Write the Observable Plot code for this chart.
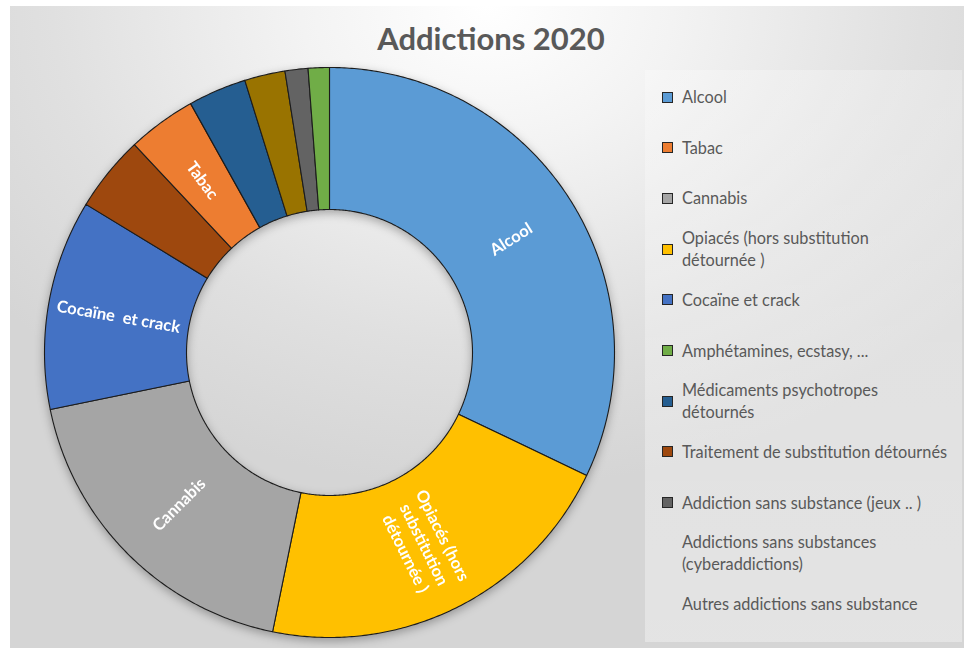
<!DOCTYPE html>
<html>
<head>
<meta charset="utf-8">
<script src="https://cdn.jsdelivr.net/npm/d3@7"></script>
<script src="https://cdn.jsdelivr.net/npm/@observablehq/plot@0.6"></script>
<style>
  body { margin: 0; background: #ffffff; font-family: Lato, "Open Sans", sans-serif; }
  #page { position: relative; width: 964px; height: 648px; overflow: hidden; background: #ffffff; }
  #frame { position: absolute; left: 10px; top: 6px; width: 954px; height: 642px;
    background: radial-gradient(ellipse 65% 75% at 50% 0%, #ffffff 0%, #f3f3f3 30%, #e0e0e0 70%, #d5d5d5 100%); }
  #panel { position: absolute; left: 645px; top: 70px; width: 317px; height: 572px;
    background: linear-gradient(180deg, rgba(255,255,255,0.25), rgba(255,255,255,0.35)); }
  #title { position: absolute; left: 14px; top: 20px; width: 954px; text-align: center;
    font-family: Lato, sans-serif; font-weight: 700; font-size: 31px; color: #595959; line-height: 36px; }
  #chart { position: absolute; left: 39px; top: 62px; width: 580px; height: 580px;
    filter: drop-shadow(0px 3px 5px rgba(0,0,0,0.30)); }
  .item { position: absolute; left: 662px; display: flex; align-items: center; transform: translateY(-50%); }
  .sw { width: 9px; height: 9px; border: 1px solid #262626; margin-right: 9px; flex: none; }
  .sw.none { border-color: transparent; background: transparent !important; }
  .lab { white-space: pre-line; font-size: 16.3px; line-height: 22px; color: #595959; font-family: Lato, sans-serif; }
</style>
</head>
<body>
<div id="page">
  <div id="frame"></div>
  <div id="panel"></div>
  <div id="title">Addictions 2020</div>
  <div id="chart"></div>
  <div id="legend"></div>
</div>
<script>
// ---- data (legend order) ----
const categories = [
  "Alcool",
  "Tabac",
  "Cannabis",
  "Opiacés (hors substitution détournée )",
  "Cocaïne et crack",
  "Amphétamines, ecstasy, ...",
  "Médicaments psychotropes détournés",
  "Traitement de substitution détournés",
  "Addiction sans substance (jeux .. )",
  "Addictions sans substances (cyberaddictions)",
  "Autres addictions sans substance"
];
const values = [32.1, 3.9, 18.6, 21.1, 11.9, 1.2, 3.3, 4.3, 1.3, 2.3, 0];
const colors = ["#5B9BD5", "#ED7D31", "#A5A5A5", "#FFC000", "#4472C4", "#70AD47",
                "#255E91", "#9E480E", "#636363", "#997300", "#264478"];
const legendLabels = [
  "Alcool",
  "Tabac",
  "Cannabis",
  "Opiacés (hors substitution\ndétournée )",
  "Cocaïne et crack",
  "Amphétamines, ecstasy, ...",
  "Médicaments psychotropes\ndétournés",
  "Traitement de substitution détournés",
  "Addiction sans substance (jeux .. )",
  "Addictions sans substances\n(cyberaddictions)",
  "Autres addictions sans substance"
];
const showSwatch = [true, true, true, true, true, true, true, true, true, false, false];
const sliceLabels = ["Alcool", "Tabac", "Cannabis", "Opiacés (hors\nsubstitution\ndétournée )",
                     "Cocaïne  et crack", "", "", "", "", "", ""];
// clockwise order of the slices from 12 o'clock
const sliceOrder = [0, 3, 2, 4, 7, 1, 6, 9, 8, 5];

// ---- geometry ----
const R_OUT = 285, R_IN = 143, HALF = 290;

const pie = d3.pie().sort(null).value(d => d.value)
  (sliceOrder.map(i => ({name: categories[i], value: values[i], label: sliceLabels[i]})));

const pts = [];
const labels = [];
for (const a of pie) {
  const n = Math.max(2, Math.ceil((a.endAngle - a.startAngle) / (Math.PI / 360)));
  for (let k = 0; k <= n; k++) {
    const t = a.startAngle + (a.endAngle - a.startAngle) * k / n;
    pts.push({name: a.data.name, x: R_OUT * Math.sin(t), y: R_OUT * Math.cos(t)});
  }
  for (let k = n; k >= 0; k--) {
    const t = a.startAngle + (a.endAngle - a.startAngle) * k / n;
    pts.push({name: a.data.name, x: R_IN * Math.sin(t), y: R_IN * Math.cos(t)});
  }
  if (a.data.label) {
    const m = (a.startAngle + a.endAngle) / 2, r = (R_OUT + R_IN) / 2;
    let rot = m * 180 / Math.PI - 90;
    if (rot > 90 && rot < 270) rot -= 180;
    labels.push({x: r * Math.sin(m), y: r * Math.cos(m), label: a.data.label, rotate: rot});
  }
}

const chart = Plot.plot({
  width: 2 * HALF, height: 2 * HALF, margin: 0,
  style: {background: "transparent", overflow: "visible"},
  x: {domain: [-HALF, HALF], axis: null},
  y: {domain: [-HALF, HALF], axis: null},
  color: {domain: categories, range: colors},
  marks: [
    Plot.line(pts, {x: "x", y: "y", z: "name", fill: "name", stroke: "#1c1c1c",
                    strokeWidth: 1.1, curve: "linear-closed", strokeLinejoin: "round"}),
    Plot.text(labels, {x: "x", y: "y", text: "label", rotate: "rotate", fill: "white",
                       fontSize: 16.5, fontWeight: "bold", fontFamily: "Lato, sans-serif",
                       lineHeight: 1.25, textAnchor: "middle", lineAnchor: "middle"})
  ]
});
document.getElementById("chart").appendChild(chart);

// ---- legend ----
const legend = d3.select("#legend");
categories.forEach((c, i) => {
  const it = legend.append("div").attr("class", "item").style("top", (97 + i * 50.7) + "px");
  it.append("div").attr("class", "sw" + (showSwatch[i] ? "" : " none")).style("background", colors[i]);
  it.append("div").attr("class", "lab").text(legendLabels[i]);
});
</script>
</body>
</html>
